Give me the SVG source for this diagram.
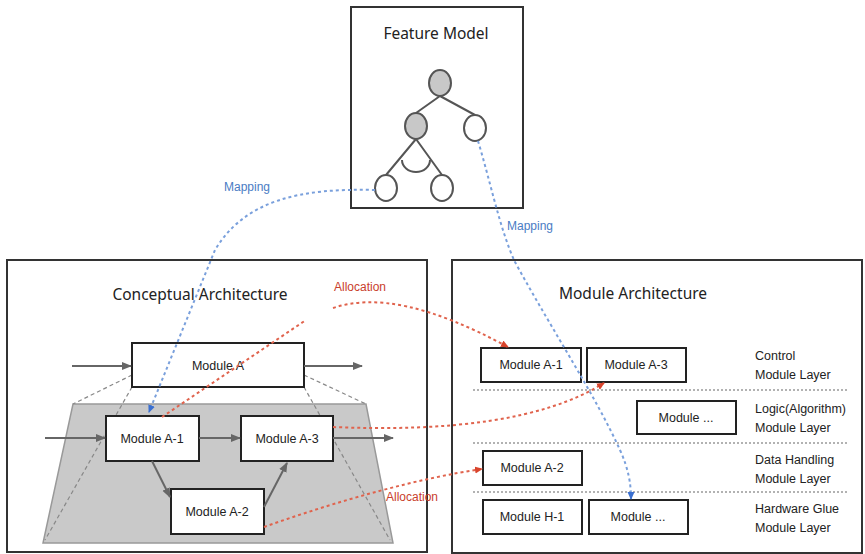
<svg xmlns="http://www.w3.org/2000/svg" width="865" height="554" viewBox="0 0 865 554">
<style>
.frame{fill:#fff;stroke:#333;stroke-width:2}
.box{fill:#fff;stroke:#222;stroke-width:2}
.title{font-family:"Noto Sans","Liberation Sans",sans-serif;font-size:15.5px;fill:#222;text-anchor:middle}
.mod{font-family:"Liberation Sans",Arial,sans-serif;font-size:12.5px;fill:#222;text-anchor:middle}
.lay{font-family:"Liberation Sans",Arial,sans-serif;font-size:12.5px;fill:#222}
.fm{stroke:#555;stroke-width:2;fill:#fff}
.fmg{stroke:#555;stroke-width:2;fill:#c8c8c8}
.flow{stroke:#666;stroke-width:2;fill:none;marker-end:url(#ga)}
.guide{stroke:#888;stroke-width:1.2;stroke-dasharray:4 3;fill:none}
.sep{stroke:#999;stroke-width:1.5;stroke-dasharray:2 2;fill:none}
.map{stroke:#7aa0dc;stroke-width:2;stroke-dasharray:3 3;fill:none}
.alloc{stroke:#e0634d;stroke-width:2;stroke-dasharray:3 3;fill:none}
.mapl{font-family:"Liberation Sans",Arial,sans-serif;font-size:12px;fill:#4a7cc4;text-anchor:middle}
.alll{font-family:"Liberation Sans",Arial,sans-serif;font-size:12px;fill:#c9402c;text-anchor:middle}
</style>
<defs>
<marker id="ga" markerWidth="10" markerHeight="10" refX="9" refY="5" orient="auto" markerUnits="userSpaceOnUse"><path d="M0,1 L10,5 L0,9 z" fill="#666"/></marker>
<marker id="ba" markerWidth="8" markerHeight="8" refX="7" refY="4" orient="auto" markerUnits="userSpaceOnUse"><path d="M0,0.5 L8,4 L0,7.5 z" fill="#3a6fd0"/></marker>
<marker id="ra" markerWidth="8" markerHeight="8" refX="7" refY="4" orient="auto" markerUnits="userSpaceOnUse"><path d="M0,0.5 L8,4 L0,7.5 z" fill="#d9442c"/></marker>
</defs>
<rect width="865" height="554" fill="#fff"/>

<g id="feature-model">
<rect class="frame" x="351" y="7" width="172" height="201"/>
<text class="title" x="436" y="39" font-size="16">Feature  Model</text>
<path d="M440,96 L416,113 M440,96 L475,115 M416,139 L386,175 M416,139 L442,175" stroke="#555" stroke-width="2" fill="none"/>
<path d="M402,160 A14,12 0 0 0 430,160" stroke="#555" stroke-width="2" fill="none"/>
<ellipse class="fmg" cx="440" cy="83" rx="11" ry="13"/>
<ellipse class="fmg" cx="416" cy="126" rx="11" ry="13"/>
<ellipse class="fm" cx="475" cy="128" rx="11" ry="13"/>
<ellipse class="fm" cx="386" cy="188" rx="11" ry="13"/>
<ellipse class="fm" cx="442" cy="188" rx="11" ry="13"/>
</g>

<g id="conceptual-architecture">
<rect class="frame" x="7" y="260" width="420" height="292"/>
<text class="title" x="200" y="300">Conceptual  Architecture</text>
<polygon points="73,404 366,404 393,543 43,543" fill="#c9c9c9" stroke="#999" stroke-width="1.5"/>
<path class="guide" d="M132,375 L73,404 M132,387 L45,540 M304,375 L366,404 M304,387 L390,540"/>
</g>

<g id="module-a">
<rect class="box" x="132" y="343" width="172" height="44"/>
<text class="mod" x="218" y="370" font-size="14">Module A</text>
</g>
<g id="module-a1">
<rect class="box" x="106" y="416" width="93" height="45"/>
<text class="mod" x="152" y="443">Module A-1</text>
</g>
<g id="module-a3">
<rect class="box" x="241" y="416" width="92" height="45"/>
<text class="mod" x="287" y="443">Module A-3</text>
</g>
<g id="module-a2">
<rect class="box" x="171" y="489" width="93" height="45"/>
<text class="mod" x="217" y="516">Module A-2</text>
</g>

<g id="module-architecture">
<rect class="frame" x="452" y="260" width="410" height="293"/>
<text class="title" x="633" y="299">Module  Architecture</text>
<path class="sep" d="M473,390 H848 M473,443 H848 M473,492 H848"/>
<text class="lay" x="755" y="360">Control</text>
<text class="lay" x="755" y="379">Module Layer</text>
<text class="lay" x="755" y="413">Logic(Algorithm)</text>
<text class="lay" x="755" y="432">Module Layer</text>
<text class="lay" x="755" y="464">Data Handling</text>
<text class="lay" x="755" y="483">Module Layer</text>
<text class="lay" x="755" y="513">Hardware Glue</text>
<text class="lay" x="755" y="532">Module Layer</text>
</g>
<g id="ma-a1"><rect class="box" x="481" y="348" width="100" height="34"/><text class="mod" x="531" y="369" font-size="11.5">Module A-1</text></g>
<g id="ma-a3"><rect class="box" x="587" y="348" width="99" height="34"/><text class="mod" x="636" y="369" font-size="11.5">Module A-3</text></g>
<g id="ma-logic"><rect class="box" x="637" y="401" width="99" height="33"/><text class="mod" x="686" y="422" font-size="11.5">Module ...</text></g>
<g id="ma-a2"><rect class="box" x="483" y="451" width="99" height="34"/><text class="mod" x="532" y="472" font-size="11.5">Module A-2</text></g>
<g id="ma-h1"><rect class="box" x="483" y="500" width="99" height="34"/><text class="mod" x="532" y="521" font-size="11.5">Module H-1</text></g>
<g id="ma-hw"><rect class="box" x="589" y="500" width="99" height="34"/><text class="mod" x="638" y="521" font-size="11.5">Module ...</text></g>

<g id="connectors">
<path class="flow" d="M72,366 H131"/>
<path class="flow" d="M304,366 H362"/>
<path class="flow" d="M45,438 H105"/>
<path class="flow" d="M199,438 H240"/>
<path class="flow" d="M333,438 H393"/>
<path class="flow" d="M152,461 L170,497"/>
<path class="flow" d="M264,507 L287,463"/>

<path class="map" d="M375,190 C 300,188 245,200 215,250 L149,412" marker-end="url(#ba)"/>
<path class="map" d="M478,141 C 490,180 500,230 515,262 C 555,335 595,395 620,450 C 629,470 631,485 631,499" marker-end="url(#ba)"/>
<text class="mapl" x="247" y="191">Mapping</text>
<text class="mapl" x="530" y="230">Mapping</text>

<path class="alloc" d="M162,417 L306,320"/>
<path class="alloc" d="M333,308 C 375,294 430,305 508,347" marker-end="url(#ra)"/>
<path class="alloc" d="M333,427 C 450,432 545,420 604,383" marker-end="url(#ra)"/>
<path class="alloc" d="M264,527 C 340,500 420,478 482,469" marker-end="url(#ra)"/>
<text class="alll" x="360" y="291">Allocation</text>
<text class="alll" x="412" y="501">Allocation</text>
</g>
</svg>
